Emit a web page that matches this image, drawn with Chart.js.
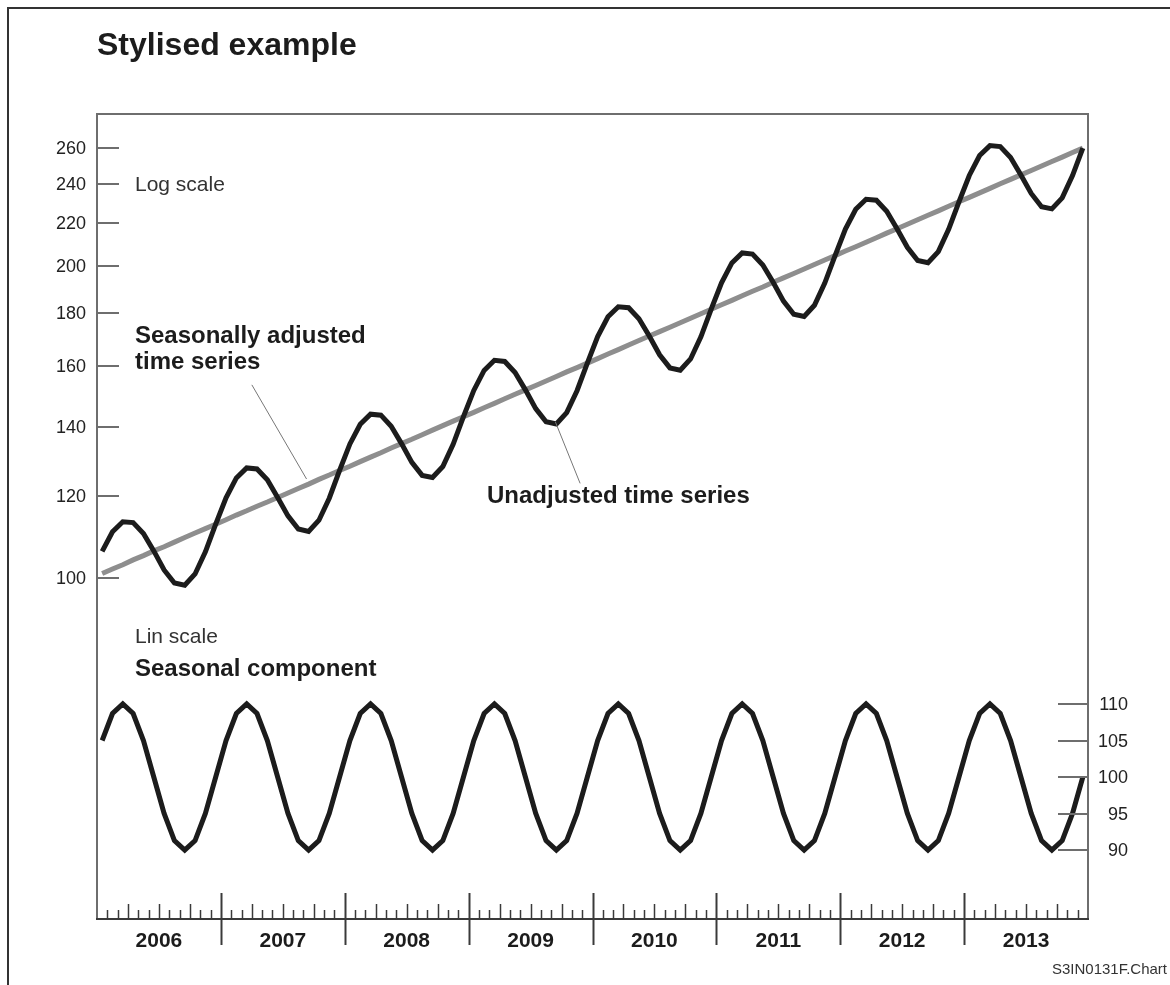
<!DOCTYPE html>
<html>
<head>
<meta charset="utf-8">
<title>Stylised example</title>
<script src="https://cdn.jsdelivr.net/npm/chart.js@4.4.0/dist/chart.umd.min.js"></script>
<style>
    html, body { margin: 0; padding: 0; background: #fff; }
    canvas { display: block; }
</style>
</head>
<body>
<canvas id="seasonChart" width="1170" height="985"></canvas>
<script>
var years = ["2006", "2007", "2008", "2009", "2010", "2011", "2012", "2013"];
var monthNames = ["Jan", "Feb", "Mar", "Apr", "May", "Jun", "Jul", "Aug", "Sep", "Oct", "Nov", "Dec"];

// unadjusted time series (log scale), one value per month
var unadjusted = [
    106.1, 110.8, 113.3, 113.1, 110.4, 106.2, 101.8, 98.9, 98.4, 100.9, 106.0, 112.7,
    119.5, 124.9, 127.7, 127.4, 124.4, 119.6, 114.8, 111.5, 110.9, 113.7, 119.4, 127.0,
    134.7, 140.7, 143.9, 143.6, 140.1, 134.8, 129.3, 125.6, 125.0, 128.1, 134.6, 143.1,
    151.7, 158.6, 162.2, 161.8, 157.9, 151.9, 145.7, 141.5, 140.8, 144.4, 151.6, 161.2,
    171.0, 178.7, 182.7, 182.3, 177.9, 171.2, 164.2, 159.5, 158.7, 162.7, 170.9, 181.7,
    192.7, 201.4, 205.9, 205.4, 200.5, 192.9, 185.0, 179.7, 178.8, 183.3, 192.6, 204.7,
    217.1, 226.9, 232.0, 231.5, 225.9, 217.3, 208.5, 202.5, 201.5, 206.5, 217.0, 230.7,
    244.6, 255.7, 261.4, 260.8, 254.6, 244.9, 235.0, 228.2, 227.1, 232.7, 244.5, 259.9
];

// seasonally adjusted time series (log scale)
var adjusted = [
    101.0, 102.0, 103.0, 104.1, 105.1, 106.2, 107.2, 108.3, 109.4, 110.5, 111.6, 112.7,
    113.8, 115.0, 116.1, 117.3, 118.4, 119.6, 120.8, 122.0, 123.2, 124.5, 125.7, 127.0,
    128.2, 129.5, 130.8, 132.1, 133.5, 134.8, 136.1, 137.5, 138.9, 140.3, 141.7, 143.1,
    144.5, 146.0, 147.4, 148.9, 150.4, 151.9, 153.4, 154.9, 156.5, 158.1, 159.6, 161.2,
    162.8, 164.5, 166.1, 167.8, 169.5, 171.2, 172.9, 174.6, 176.3, 178.1, 179.9, 181.7,
    183.5, 185.3, 187.2, 189.1, 190.9, 192.9, 194.8, 196.7, 198.7, 200.7, 202.7, 204.7,
    206.8, 208.8, 210.9, 213.0, 215.2, 217.3, 219.5, 221.7, 223.9, 226.1, 228.4, 230.7,
    233.0, 235.3, 237.7, 240.1, 242.5, 244.9, 247.3, 249.8, 252.3, 254.8, 257.4, 259.9
];

// seasonal component (lin scale)
var seasonal = [
    105, 108.7, 110, 108.7, 105, 100, 95, 91.3, 90, 91.3, 95, 100,
    105, 108.7, 110, 108.7, 105, 100, 95, 91.3, 90, 91.3, 95, 100,
    105, 108.7, 110, 108.7, 105, 100, 95, 91.3, 90, 91.3, 95, 100,
    105, 108.7, 110, 108.7, 105, 100, 95, 91.3, 90, 91.3, 95, 100,
    105, 108.7, 110, 108.7, 105, 100, 95, 91.3, 90, 91.3, 95, 100,
    105, 108.7, 110, 108.7, 105, 100, 95, 91.3, 90, 91.3, 95, 100,
    105, 108.7, 110, 108.7, 105, 100, 95, 91.3, 90, 91.3, 95, 100,
    105, 108.7, 110, 108.7, 105, 100, 95, 91.3, 90, 91.3, 95, 100
];

var logTicks = [100, 120, 140, 160, 180, 200, 220, 240, 260];
var linTicks = [90, 95, 100, 105, 110];

var labels = [];
years.forEach(function (y) {
    monthNames.forEach(function (m) {
        labels.push(m + " " + y);
    });
});

var FONT = "'Liberation Sans', Arial, Helvetica, sans-serif";
var AXIS = "#6e6e6e";
var INK = "#1c1c1c";

function text(ctx, str, x, y, size, bold, align, color) {
    ctx.font = (bold ? "bold " : "") + size + "px " + FONT;
    ctx.textAlign = align || "left";
    ctx.textBaseline = "alphabetic";
    ctx.fillStyle = color || INK;
    ctx.fillText(str, x, y);
}

function line(ctx, x1, y1, x2, y2) {
    ctx.beginPath();
    ctx.moveTo(x1, y1);
    ctx.lineTo(x2, y2);
    ctx.stroke();
}

var decorPlugin = {
    id: "decor",
    afterDraw: function (chart) {
        var ctx = chart.ctx;
        var area = chart.chartArea;
        var x = chart.scales.x;
        var yLog = chart.scales.yLog;
        var yLin = chart.scales.yLin;
        ctx.save();

        // outer frame (left and top only show)
        ctx.strokeStyle = "#333";
        ctx.lineWidth = 2;
        line(ctx, 8, 8, 8, 985);
        line(ctx, 7, 8, 1170, 8);

        // plot box
        ctx.strokeStyle = AXIS;
        ctx.lineWidth = 2;
        ctx.beginPath();
        ctx.moveTo(area.left, area.bottom);
        ctx.lineTo(area.left, area.top);
        ctx.lineTo(area.right, area.top);
        ctx.lineTo(area.right, area.bottom);
        ctx.stroke();

        // left log ticks, pointing inward
        logTicks.forEach(function (v) {
            var py = Math.round(yLog.getPixelForValue(v));
            line(ctx, area.left, py, area.left + 22, py);
            ctx.textBaseline = "middle";
            ctx.font = "18px " + FONT;
            ctx.textAlign = "right";
            ctx.fillStyle = "#222";
            ctx.fillText(String(v), area.left - 11, py + 1);
        });

        // right lin ticks, pointing inward
        linTicks.forEach(function (v) {
            var py = Math.round(yLin.getPixelForValue(v));
            line(ctx, area.right - 30, py, area.right, py);
            ctx.textBaseline = "middle";
            ctx.font = "18px " + FONT;
            ctx.textAlign = "right";
            ctx.fillStyle = "#222";
            ctx.fillText(String(v), area.right + 40, py + 1);
        });

        // x axis: month ticks, quarters taller, year dividers across the axis
        ctx.strokeStyle = "#3a3a3a";
        ctx.lineWidth = 2;
        line(ctx, area.left - 1, area.bottom, area.right + 1, area.bottom);
        ctx.lineWidth = 1.5;
        for (var i = 1; i < labels.length; i++) {
            var px = Math.round(x.getPixelForValue(i - 0.5)) + 0.5;
            if (i % 12 === 0) {
                ctx.lineWidth = 2;
                line(ctx, px, area.bottom - 26, px, area.bottom + 26);
                ctx.lineWidth = 1.5;
            } else if (i % 3 === 0) {
                line(ctx, px, area.bottom, px, area.bottom - 15);
            } else {
                line(ctx, px, area.bottom, px, area.bottom - 9);
            }
        }
        years.forEach(function (y, k) {
            var px = x.getPixelForValue(k * 12 + 5.5);
            text(ctx, y, px, area.bottom + 28, 21, true, "center");
        });

        // leader lines
        ctx.strokeStyle = "#777";
        ctx.lineWidth = 1;
        line(ctx, x.getPixelForValue(14.5), yLog.getPixelForValue(153.6),
            x.getPixelForValue(19.8), yLog.getPixelForValue(124.6));
        line(ctx, x.getPixelForValue(43.9), yLog.getPixelForValue(141.5),
            x.getPixelForValue(46.3), yLog.getPixelForValue(123.4));

        // texts
        text(ctx, "Stylised example", 97, 55, 32, true);
        text(ctx, "Log scale", 135, 191, 21, false, "left", "#333");
        text(ctx, "Seasonally adjusted", 135, 343, 24, true);
        text(ctx, "time series", 135, 369, 24, true);
        text(ctx, "Unadjusted time series", 487, 503, 24, true);
        text(ctx, "Lin scale", 135, 643, 21, false, "left", "#333");
        text(ctx, "Seasonal component", 135, 676, 24, true);
        text(ctx, "S3IN0131F.Chart", 1167, 974, 15, false, "right", "#333");

        ctx.restore();
    }
};

var ctx = document.getElementById("seasonChart").getContext("2d");
var seasonChart = new Chart(ctx, {
    type: "line",
    data: {
        labels: labels,
        datasets: [
            {
                label: "Unadjusted time series",
                data: unadjusted,
                yAxisID: "yLog",
                borderColor: INK,
                borderWidth: 5,
                order: 0,
            },
            {
                label: "Seasonally adjusted time series",
                data: adjusted,
                yAxisID: "yLog",
                borderColor: "#8e8e8e",
                borderWidth: 5,
                order: 1,
            },
            {
                label: "Seasonal component",
                data: seasonal,
                yAxisID: "yLin",
                borderColor: INK,
                borderWidth: 5,
                order: 0,
            },
        ],
    },
    options: {
        responsive: false,
        animation: false,
        layout: {
            padding: { left: 97, top: 114, right: 82, bottom: 66 },
        },
        elements: {
            point: { radius: 0, hoverRadius: 0 },
            line: { tension: 0, fill: false },
        },
        plugins: {
            legend: { display: false },
            tooltip: { enabled: false },
        },
        scales: {
            x: {
                type: "category",
                offset: true,
                display: false,
            },
            yLog: {
                type: "logarithmic",
                position: "left",
                min: 46.87,
                max: 280.4,
                display: false,
            },
            yLin: {
                type: "linear",
                position: "right",
                min: 80.55,
                max: 190.82,
                display: false,
            },
        },
    },
    plugins: [decorPlugin],
});
</script>
</body>
</html>
